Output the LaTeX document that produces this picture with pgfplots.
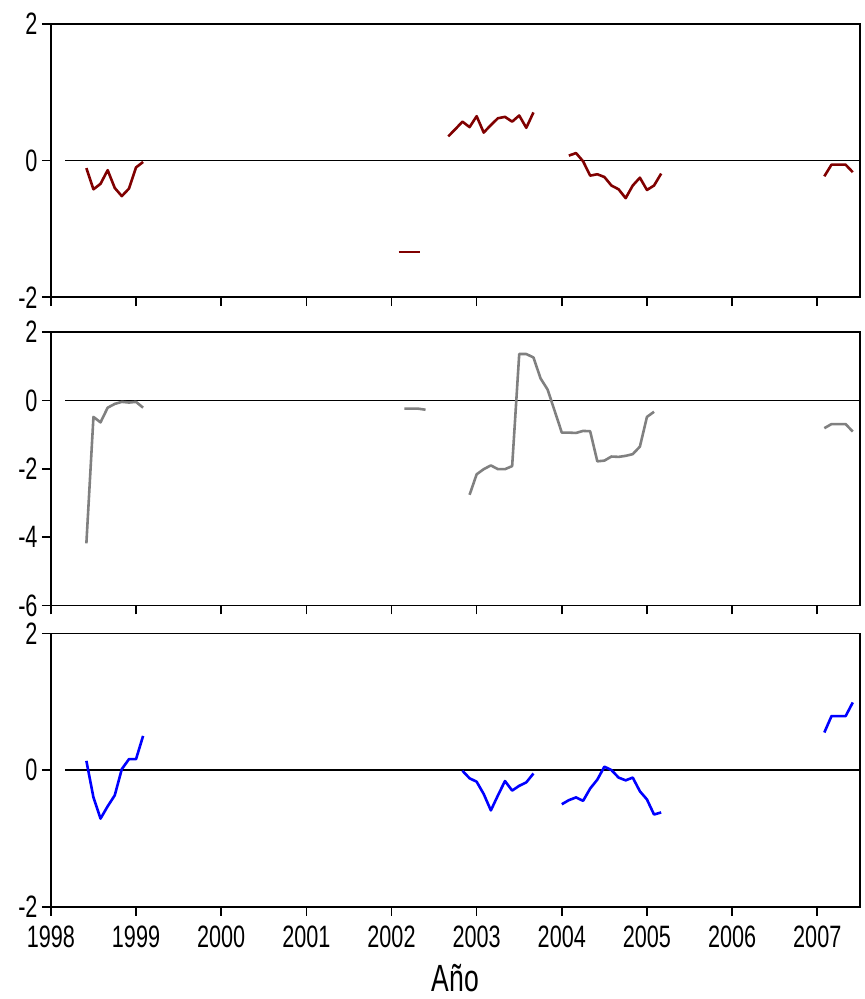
\documentclass[border=0pt]{standalone}
\usepackage{fontspec}
\setmainfont{Liberation Sans}[FakeStretch=0.7]
\usepackage{pgfplots}
\pgfplotsset{compat=1.18}
\definecolor{dred}{HTML}{800000}
\definecolor{mgray}{HTML}{808080}
\definecolor{mblue}{HTML}{0000FF}
\pgfplotsset{
  panel/.style={
    scale only axis, width=405.5pt, height=137pt, anchor=south west,
    xmin=1998, xmax=2007.5,
    xtick={1998,1999,2000,2001,2002,2003,2004,2005,2006,2007},
    tick align=outside, xtick pos=bottom, ytick pos=left,
    major tick length=4.5pt,
    tick style={black, line width=0.8pt},
    axis line style={line width=0.9pt},
    ticklabel style={font=\fontsize{15.5}{17}\selectfont},
    yticklabel style={inner sep=2pt},
    clip=false,
  },
  zero/.style={black, line width=0.6pt, forget plot},
  ser/.style={line width=1.3pt, line join=round},
}
\begin{document}
\begin{tikzpicture}
\path (0,0) rectangle (433.5pt,499.5pt);
% Panel 1
\begin{axis}[panel, at={(25.5pt,350.5pt)}, ymin=-2, ymax=2, ytick={-2,0,2}, yticklabels={-2,0,2}, xticklabels={}]
\addplot[zero] coordinates {(1998.167,0) (2007.5,0)};
\addplot[ser, dred] coordinates {(1998.417,-0.11) (1998.5,-0.42) (1998.583,-0.34) (1998.667,-0.14) (1998.75,-0.40) (1998.833,-0.52) (1998.917,-0.41) (1999.0,-0.10) (1999.083,-0.02)};
\addplot[ser, dred] coordinates {(2002.083,-1.34) (2002.167,-1.34) (2002.25,-1.34) (2002.333,-1.34)};
\addplot[ser, dred] coordinates {(2002.667,0.355) (2002.75,0.46) (2002.833,0.57) (2002.917,0.49) (2003.0,0.65) (2003.083,0.41) (2003.167,0.52) (2003.25,0.62) (2003.333,0.64) (2003.417,0.57) (2003.5,0.66) (2003.583,0.48) (2003.667,0.705)};
\addplot[ser, dred] coordinates {(2004.083,0.073) (2004.167,0.11) (2004.25,-0.01) (2004.333,-0.22) (2004.417,-0.20) (2004.5,-0.24) (2004.583,-0.365) (2004.667,-0.42) (2004.75,-0.55) (2004.833,-0.365) (2004.917,-0.25) (2005.0,-0.43) (2005.083,-0.365) (2005.167,-0.19)};
\addplot[ser, dred] coordinates {(2007.083,-0.23) (2007.167,-0.06) (2007.25,-0.06) (2007.333,-0.06) (2007.417,-0.17)};
\end{axis}
% Panel 2
\begin{axis}[panel, at={(25.5pt,196pt)}, ymin=-6, ymax=2, ytick={-6,-4,-2,0,2}, yticklabels={-6,-4,-2,0,2}, xticklabels={}]
\addplot[zero] coordinates {(1998.167,0) (2007.5,0)};
\addplot[ser, mgray] coordinates {(1998.417,-4.18) (1998.5,-0.48) (1998.583,-0.64) (1998.667,-0.21) (1998.75,-0.10) (1998.833,-0.04) (1998.917,-0.06) (1999.0,-0.04) (1999.083,-0.21)};
\addplot[ser, mgray] coordinates {(2002.15,-0.24) (2002.233,-0.24) (2002.317,-0.24) (2002.4,-0.27)};
\addplot[ser, mgray] coordinates {(2002.917,-2.76) (2003.0,-2.16) (2003.083,-2.01) (2003.167,-1.90) (2003.25,-2.01) (2003.333,-2.01) (2003.417,-1.92) (2003.5,1.36) (2003.583,1.36) (2003.667,1.26) (2003.75,0.65) (2003.833,0.32) (2003.917,-0.31) (2004.0,-0.94) (2004.083,-0.94) (2004.167,-0.95) (2004.25,-0.89) (2004.333,-0.90) (2004.417,-1.78) (2004.5,-1.76) (2004.583,-1.64) (2004.667,-1.65) (2004.75,-1.62) (2004.833,-1.57) (2004.917,-1.35) (2005.0,-0.48) (2005.083,-0.33)};
\addplot[ser, mgray] coordinates {(2007.083,-0.81) (2007.167,-0.69) (2007.25,-0.69) (2007.333,-0.69) (2007.417,-0.91)};
\end{axis}
% Panel 3
\begin{axis}[panel, at={(25.5pt,45pt)}, ymin=-2, ymax=2, ytick={-2,0,2}, yticklabels={-2,0,2},
  xticklabels={1998,1999,2000,2001,2002,2003,2004,2005,2006,2007},
  xticklabel style={yshift=-1.5pt},
  xlabel={Año}, xlabel style={font=\fontsize{19}{21}\selectfont, at={(axis description cs:0.5,0)}, anchor=center, yshift=-36pt}]
\addplot[zero] coordinates {(1998.167,0) (2007.5,0)};
\addplot[ser, mblue] coordinates {(1998.417,0.135) (1998.5,-0.40) (1998.583,-0.71) (1998.667,-0.53) (1998.75,-0.37) (1998.833,0.014) (1998.917,0.16) (1999.0,0.16) (1999.083,0.50)};
\addplot[ser, mblue] coordinates {(2002.833,-0.01) (2002.917,-0.12) (2003.0,-0.17) (2003.083,-0.35) (2003.167,-0.59) (2003.25,-0.37) (2003.333,-0.16) (2003.417,-0.30) (2003.5,-0.23) (2003.583,-0.18) (2003.667,-0.05)};
\addplot[ser, mblue] coordinates {(2004.0,-0.50) (2004.083,-0.44) (2004.167,-0.40) (2004.25,-0.45) (2004.333,-0.27) (2004.417,-0.14) (2004.5,0.05) (2004.583,0.0) (2004.667,-0.11) (2004.75,-0.15) (2004.833,-0.11) (2004.917,-0.31) (2005.0,-0.43) (2005.083,-0.65) (2005.167,-0.62)};
\addplot[ser, mblue] coordinates {(2007.083,0.55) (2007.167,0.79) (2007.25,0.79) (2007.333,0.79) (2007.417,0.99)};
\end{axis}
\end{tikzpicture}
\end{document}
